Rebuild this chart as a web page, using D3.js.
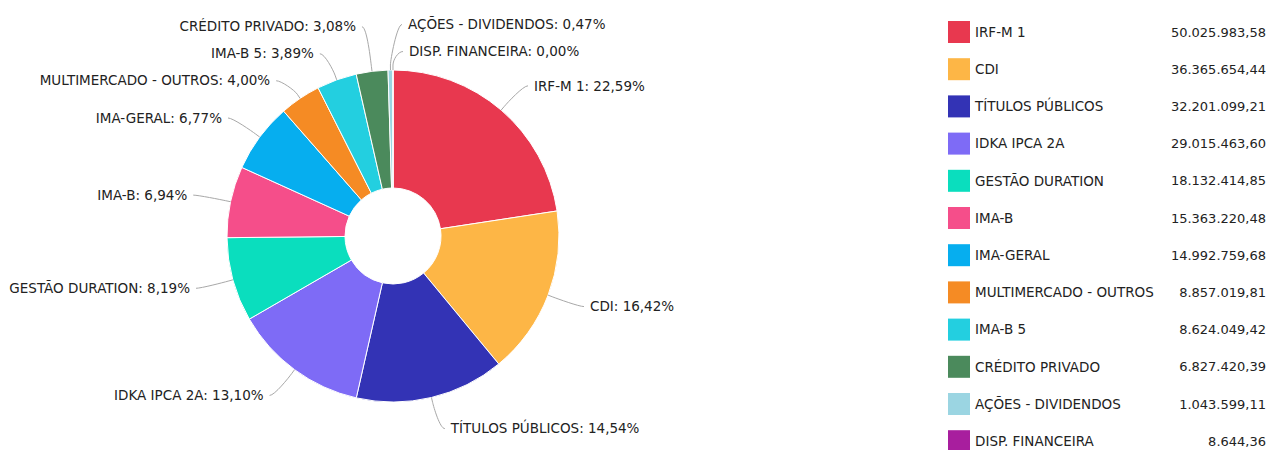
<!DOCTYPE html>
<html>
<head>
<meta charset="utf-8">
<script src="https://cdn.jsdelivr.net/npm/d3@7"></script>
<style>
  html, body { margin: 0; padding: 0; background: #fff; }
  svg { display: block; font-family: "DejaVu Sans", Verdana, sans-serif; }
</style>
</head>
<body>
<svg id="chart" width="1269" height="450"></svg>
<script>
const categories = ["IRF-M 1", "CDI", "TÍTULOS PÚBLICOS", "IDKA IPCA 2A", "GESTÃO DURATION", "IMA-B", "IMA-GERAL", "MULTIMERCADO - OUTROS", "IMA-B 5", "CRÉDITO PRIVADO", "AÇÕES - DIVIDENDOS", "DISP. FINANCEIRA"];
const values = [50025983.58, 36365654.44, 32201099.21, 29015463.60, 18132414.85, 15363220.48, 14992759.68, 8857019.81, 8624049.42, 6827420.39, 1043599.11, 8644.36];
const colors = ["#E8384F", "#FDB646", "#3333B5", "#7E6BF6", "#0ADEBE", "#F54E8A", "#06AEEF", "#F58B24", "#23CFE0", "#4B8A5C", "#9BD5E2", "#A81E9E"];

const locale = d3.formatLocale({decimal: ",", thousands: ".", grouping: [3], currency: ["R$", ""]});
const fmtValue = locale.format(",.2f");
const fmtPct = locale.format(".2f");

const svg = d3.select("#chart");
const cx = 393, cy = 236, rOuter = 166, rInner = 48, labelR = 198, boxH = 27;

const data = categories.map((name, i) => ({name, value: values[i], color: colors[i]}));
const total = d3.sum(values);

const pie = d3.pie().sort(null).value(d => d.value).startAngle(0).endAngle(2 * Math.PI);
const arcs = pie(data);
const arcGen = d3.arc().innerRadius(rInner).outerRadius(rOuter);

const g = svg.append("g").attr("transform", `translate(${cx},${cy})`);
g.selectAll("path.slice").data(arcs).join("path")
  .attr("class", "slice")
  .attr("d", arcGen)
  .attr("fill", d => d.data.color)
  .attr("stroke", "#fff")
  .attr("stroke-width", 1)
  .attr("stroke-linejoin", "round");

// label layout
const labels = arcs.map(a => {
  let th = (a.startAngle + a.endAngle) / 2;
  const right = Math.sin(th) > 0 || th > 2 * Math.PI * 0.99;
  const unwrapped = th > Math.PI && right ? th - 2 * Math.PI : th;
  return {
    a, th, right, unwrapped,
    ny: cy - labelR * Math.cos(th),
    text: a.data.name + ": " + fmtPct(a.data.value / total * 100) + "%"
  };
});

function distribute(items) {
  let clusters = items.map(d => ({items: [d]}));
  const place = c => {
    const mean = d3.mean(c.items, d => d.ny);
    const n = c.items.length;
    c.items.forEach((d, k) => d.y = mean + (k - (n - 1) / 2) * boxH);
    c.top = c.items[0].y; c.bottom = c.items[n - 1].y;
  };
  clusters.forEach(place);
  let merged = true;
  while (merged) {
    merged = false;
    for (let i = 0; i < clusters.length - 1; i++) {
      if (clusters[i].bottom + boxH > clusters[i + 1].top) {
        clusters[i].items = clusters[i].items.concat(clusters[i + 1].items);
        clusters.splice(i + 1, 1);
        place(clusters[i]);
        merged = true;
        break;
      }
    }
  }
}

const rightSide = labels.filter(d => d.right).sort((p, q) => p.unwrapped - q.unwrapped);
const leftSide = labels.filter(d => !d.right).sort((p, q) => q.th - p.th);
distribute(rightSide);
distribute(leftSide);

labels.forEach(d => {
  const dir = d.right ? 1 : -1;
  const dx = labelR * Math.abs(Math.sin(d.th));
  const edgeX = cx + rOuter * Math.sin(d.th);
  let ax = cx + dir * (dx + 6);
  ax = d.right ? Math.max(ax, edgeX + 10) : Math.min(ax, edgeX - 10);
  d.ax = ax;
  d.touch = [edgeX, cy - rOuter * Math.cos(d.th)];
  d.brk = [cx + (rOuter + 5) * Math.sin(d.th), cy - (rOuter + 5) * Math.cos(d.th)];
  d.dir = dir;
});

const lg = svg.append("g");
lg.selectAll("path.conn").data(labels).join("path")
  .attr("class", "conn")
  .attr("fill", "none")
  .attr("stroke", "#a8a8a8")
  .attr("stroke-width", 1)
  .attr("d", d => {
    const c2 = [2 * d.brk[0] - d.touch[0], 2 * d.brk[1] - d.touch[1]];
    return `M${d.ax},${d.y} C${d.ax - d.dir * 5},${d.y} ${c2[0]},${c2[1]} ${d.brk[0]},${d.brk[1]} L${d.touch[0]},${d.touch[1]}`;
  });

lg.selectAll("text.lbl").data(labels).join("text")
  .attr("class", "lbl")
  .attr("x", d => d.ax + d.dir * 6)
  .attr("y", d => d.y)
  .attr("dy", "0.35em")
  .attr("text-anchor", d => d.right ? "start" : "end")
  .attr("fill", "#222")
  .style("font-size", "13.5px")
  .text(d => d.text);

// legend
const yLeg = d3.scaleBand().domain(categories).range([13.4, 459.8]);
const leg = svg.append("g");
const rows = leg.selectAll("g.row").data(data).join("g")
  .attr("class", "row")
  .attr("transform", d => `translate(0,${yLeg(d.name) + yLeg.bandwidth() / 2})`);
rows.append("rect")
  .attr("x", 948).attr("y", -11).attr("width", 22).attr("height", 22)
  .attr("fill", d => d.color);
rows.append("text")
  .attr("x", 975).attr("dy", "0.35em")
  .attr("fill", "#222").style("font-size", "13.5px")
  .text(d => d.name);
rows.append("text")
  .attr("x", 1266).attr("dy", "0.35em").attr("text-anchor", "end")
  .attr("fill", "#222").style("font-size", "13px")
  .text(d => fmtValue(d.value));
</script>
</body>
</html>
